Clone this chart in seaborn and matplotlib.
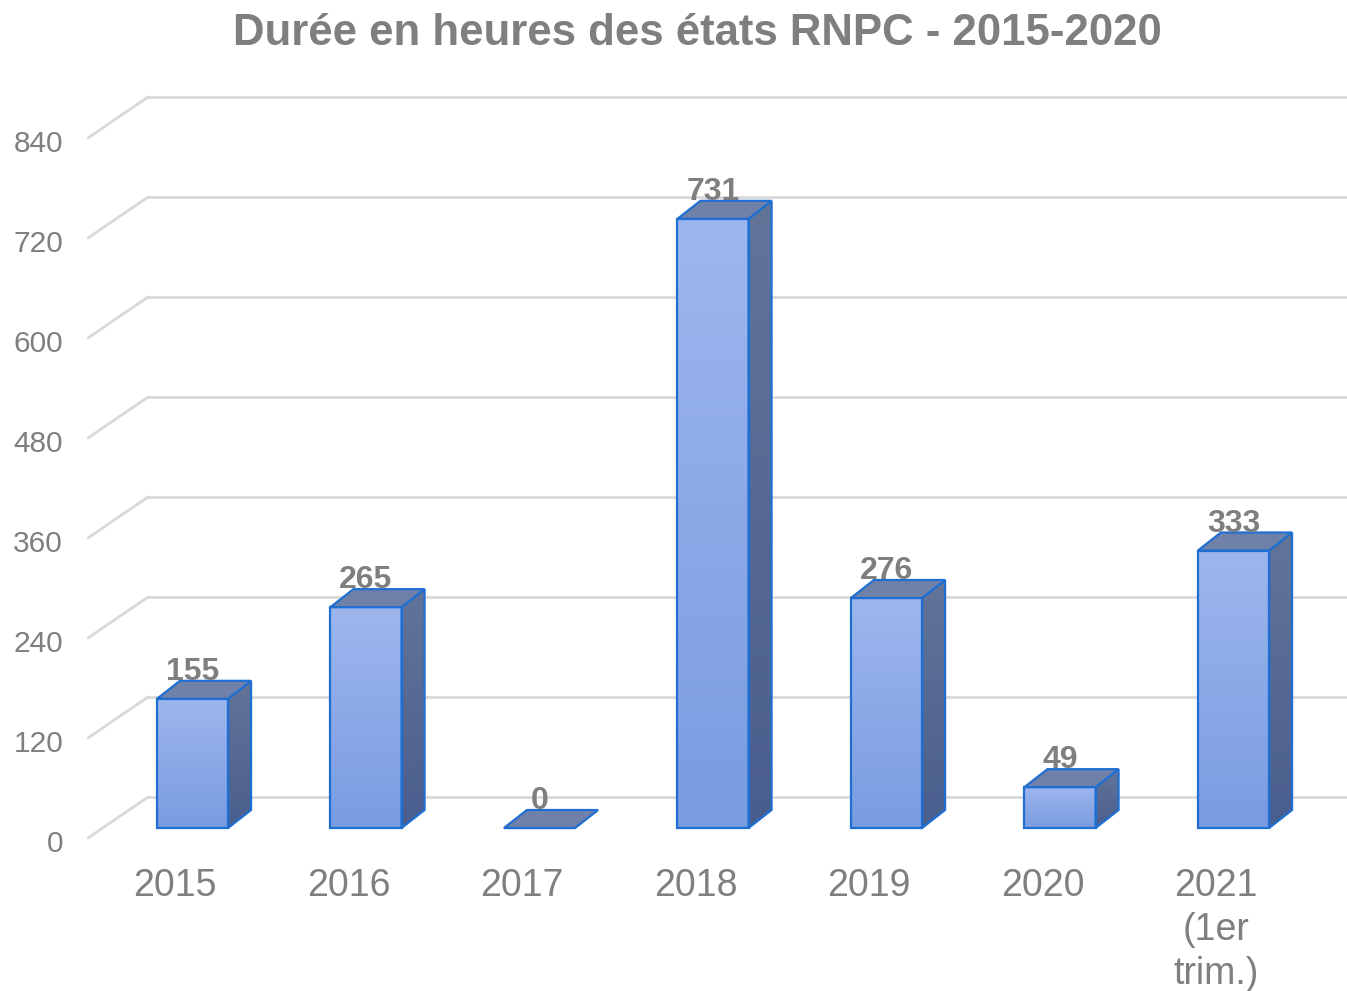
import numpy as np
import pandas as pd
import matplotlib
matplotlib.use("Agg")
import matplotlib.pyplot as plt
from matplotlib.patches import Polygon
import seaborn as sns

# data
annees = ["2015", "2016", "2017", "2018", "2019", "2020", "2021\n(1er\ntrim.)"]
heures = [155, 265, 0, 731, 276, 49, 333]
graduations = [0, 120, 240, 360, 480, 600, 720, 840]

df = pd.DataFrame({"annee": annees, "heures": heures})

sns.set_theme(style="white")
plt.rcParams["font.family"] = ["Liberation Sans", "DejaVu Sans"]

gris = "#7F7F7F"
bord = "#1F6FD2"
grille = "#D9D9D9"

fig = plt.figure(figsize=(13.47, 9.91), dpi=100)
ax = fig.add_axes([0, 0, 1, 1])

# front faces
sns.barplot(data=df, x="annee", y="heures", width=0.41, color="#8CA9E8",
            saturation=1, edgecolor=bord, linewidth=1.6, ax=ax, zorder=3)

# pixel -> data scale (173.5 px per category, 100 px per 120 h)
px_x = 1 / 173.5
px_y = 1.2
dx, dy = 23 * px_x, 18 * px_y

# 3D gridlines (back wall + floor diagonal)
x_right = (1347 - 192.5) * px_x
for v in graduations:
    ax.plot([-0.2565, x_right], [v + 31 * px_y] * 2, color=grille, lw=2, zorder=0)
    ax.plot([-0.6023, -0.2565], [v - 10 * px_y, v + 31 * px_y], color=grille, lw=2, zorder=0)
    ax.text(-0.746, v - 13 * px_y, str(v), ha="right", va="center_baseline",
            fontsize=21.5, color=gris)

grad = np.linspace(0, 1, 256).reshape(-1, 1)
front_cmap = matplotlib.colors.LinearSegmentedColormap.from_list("f", ["#799CE0", "#9EB6EE"])
side_cmap = matplotlib.colors.LinearSegmentedColormap.from_list("s", ["#4A5E8E", "#627498"])

for bar, h in zip(ax.patches, heures):
    x0, w = bar.get_x(), bar.get_width()
    x1 = x0 + w
    if h > 0:
        im = ax.imshow(grad, extent=[x0, x1, 0, h], origin="lower", aspect="auto",
                       cmap=front_cmap, zorder=3.5)
        im.set_clip_path(bar)
        bar.set_facecolor("none")
        bar.set_zorder(4)
        side = Polygon([(x1, 0), (x1 + dx, dy), (x1 + dx, h + dy), (x1, h)],
                       closed=True, facecolor="none", edgecolor=bord, lw=1.6, zorder=4)
        ax.add_patch(side)
        im2 = ax.imshow(grad, extent=[x1, x1 + dx, 0, h + dy], origin="lower",
                        aspect="auto", cmap=side_cmap, zorder=3.5)
        im2.set_clip_path(side)
    top = Polygon([(x0, h), (x1, h), (x1 + dx, h + dy), (x0 + dx, h + dy)],
                  closed=True, facecolor="#6F81A9", edgecolor=bord, lw=1.6, zorder=4)
    ax.add_patch(top)
    ax.text(x0 + w / 2, h + dy + 1, str(h), ha="center", va="baseline",
            fontsize=23, fontweight="bold", color=gris, zorder=5)

# category labels (front plane)
for i, lab in enumerate(annees):
    ax.text(i - 17.5 * px_x, -48, lab, ha="center", va="top", fontsize=27,
            color=gris, linespacing=1.28)

fig.text(0.5175, 0.966, "Durée en heures des états RNPC - 2015-2020", ha="center",
         va="center", fontsize=31.5, fontweight="bold", color=gris)

ax.set_xlim(-192.5 * px_x, x_right)
ax.set_ylim(-(991 - 828) * px_y, 828 * px_y)
ax.axis("off")

fig.savefig("out.png", dpi=100)
